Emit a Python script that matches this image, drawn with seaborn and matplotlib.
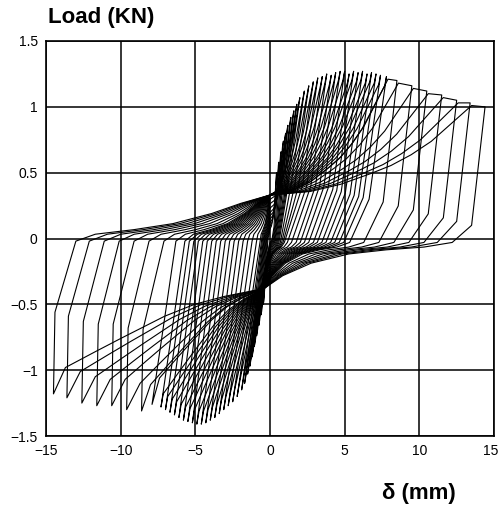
import numpy as np
import pandas as pd
import matplotlib
matplotlib.use("Agg")
import matplotlib.pyplot as plt
import matplotlib.transforms as mtransforms
import seaborn as sns

# ---- peak values of each loading cycle ----
pos_disp = [0.45, 0.6, 0.75, 0.9, 1.05, 1.2, 1.4, 1.6, 1.8, 2.0, 2.3, 2.6, 2.9, 3.2,
            3.5, 3.8, 4.1, 4.4, 4.7, 5.0, 5.3, 5.6, 5.9, 6.2, 6.5, 6.8, 7.1, 7.4,
            7.8, 8.5, 9.5, 10.5, 11.5, 12.5, 13.4, 14.4]
pos_load = [0.50, 0.58, 0.66, 0.74, 0.80, 0.86, 0.92, 0.97, 1.02, 1.07, 1.12, 1.16,
            1.19, 1.22, 1.23, 1.25, 1.24, 1.26, 1.27, 1.27, 1.25, 1.27, 1.26, 1.27,
            1.25, 1.26, 1.25, 1.24, 1.23, 1.20, 1.16, 1.12, 1.09, 1.05, 1.03, 1.00]
neg_disp = [-0.45, -0.6, -0.75, -0.9, -1.05, -1.2, -1.35, -1.5, -1.7, -1.9, -2.2,
            -2.5, -2.8, -3.1, -3.4, -3.7, -4.0, -4.3, -4.6, -4.9, -5.2, -5.5, -5.8,
            -6.1, -6.4, -6.7, -7.0, -7.3, -7.9, -8.6, -9.6, -10.6, -11.6, -12.6,
            -13.6, -14.5]
neg_load = [-0.50, -0.58, -0.66, -0.74, -0.82, -0.90, -0.97, -1.03, -1.10, -1.15,
            -1.20, -1.24, -1.27, -1.30, -1.33, -1.36, -1.38, -1.40, -1.41, -1.41,
            -1.40, -1.39, -1.38, -1.36, -1.34, -1.32, -1.30, -1.28, -1.26, -1.31,
            -1.30, -1.27, -1.27, -1.25, -1.21, -1.18]

# ---- normalised branch shapes ----
fan_u = [0, 0.2, 0.35, 0.5, 0.6, 0.7, 0.8, 0.9, 1.0]
fan_v = [0, 0.04, 0.12, 0.24, 0.33, 0.45, 0.6, 0.8, 1.0]
nfan_u = [0, 0.2, 0.35, 0.5, 0.72, 0.85, 1.0]
nfan_v = [0, 0.1, 0.2, 0.35, 0.63, 0.8, 1.0]
bot_u = [0, 0.1, 0.25, 0.45, 0.65, 0.85, 1.0]
bot_v = [0, 0.28, 0.55, 0.75, 0.84, 0.9, 1.0]
top_u = [0, 0.1, 0.3, 0.5, 0.7, 0.85, 1.0]
top_v = [0, 0.15, 0.25, 0.38, 0.6, 0.82, 1.0]

x_ticks = [-15, -10, -5, 0, 5, 10, 15]
y_ticks = [-1.5, -1, -0.5, 0, 0.5, 1, 1.5]


def branch(p0, p1, us, vs):
    xs = [p0[0] + u * (p1[0] - p0[0]) for u in us]
    ys = [p0[1] + v * (p1[1] - p0[1]) for v in vs]
    return xs, ys


rows = []
n = len(pos_disp)
for i in range(n):
    D, P = pos_disp[i], pos_load[i]
    Dn, Pn = -neg_disp[i], -neg_load[i]
    s = min(1.0, D / 2.0)
    pp = (0.0, 0.33 * s)
    pn = (-0.4 * s, -0.38 * s)
    X, Y = [], []
    big = i > 0 and (D - pos_disp[i - 1]) > 0.5
    # positive loading
    if big:
        e = (pos_disp[i - 1] + 0.1, pos_load[i - 1] - 0.02)
    else:
        e = (D - 0.12 * s, P - 0.07 * s)
    bx, by = branch(pp, e, fan_u, fan_v)
    X += bx; Y += by
    X.append(D); Y.append(P)
    # positive unloading
    yk = min(0.1 + 0.03 * (14.4 - D), 0.4) * s
    slope = 1.0 if D > 8 else 0.8
    xk = max(D - (P - yk) / slope, 0.6 * D)
    X.append(xk); Y.append(yk)
    xs_ = max(xk - 1.3, 0.3 * D)
    bx, by = branch((xs_, -0.03 * s), pn, [1 - u for u in bot_u][::-1],
                    [1 - v for v in bot_v][::-1])
    X += bx; Y += by
    # negative loading
    bign = i > 0 and (Dn + neg_disp[i - 1]) > 0.5
    if bign:
        e = (neg_disp[i - 1] - 0.1, -(Pn - 0.2))
    else:
        e = (-(Dn - 0.15 * s), -(Pn - 0.1 * s))
    bx, by = branch(pn, e, nfan_u, nfan_v)
    X += bx[1:]; Y += by[1:]
    X.append(-Dn); Y.append(-Pn)
    # negative unloading
    if Dn > 8:
        X.append(-Dn + 0.1); Y.append(-Pn + 0.62)
        xs_ = -Dn + 1.5
    else:
        xs_ = min(-Dn + 1.6, -0.3 * Dn)
    bx, by = branch((xs_, -0.02 * s), pp, top_u, top_v)
    X += bx; Y += by
    for k, (a, b) in enumerate(zip(X, Y)):
        rows.append({"cycle": i, "order": k, "x": a, "y": b})

df = pd.DataFrame(rows)

sns.set_theme(style="white")
plt.rcParams["font.family"] = ["Liberation Sans", "DejaVu Sans"]

fig = plt.figure(figsize=(5.01, 5.16), dpi=100)
ax = fig.add_axes([46 / 501, 80 / 516, 448 / 501, 395 / 516])

sns.lineplot(data=df, x="x", y="y", units="cycle", estimator=None, sort=False,
             color="black", linewidth=0.8, ax=ax)

ax.set_xlim(-15, 15)
ax.set_ylim(-1.5, 1.5)
ax.set_xticks(x_ticks)
ax.set_yticks(y_ticks)
ax.set_xticklabels([str(t) if t >= 0 else "\u2212" + str(-t) for t in x_ticks])
ax.set_yticklabels([("%g" % t).replace("-", "\u2212") for t in y_ticks])
ax.grid(True, color="black", linewidth=1.1)
ax.set_axisbelow(True)
for sp in ax.spines.values():
    sp.set_color("black")
    sp.set_linewidth(1.2)
ax.tick_params(axis="both", length=0, pad=6, labelsize=10, colors="black")
ax.set_xlabel("")
ax.set_ylabel("")
last = ax.get_xticklabels()[-1]
last.set_transform(last.get_transform() +
                   mtransforms.ScaledTranslation(-3 / 100, 0, fig.dpi_scale_trans))

fig.text(48 / 501, 1 - 18 / 516, "Load (KN)", fontsize=16, fontweight="bold",
         va="center", ha="left", color="black")
fig.text(382 / 501, 1 - 493 / 516, "\u03b4 (mm)", fontsize=16, fontweight="bold",
         va="center", ha="left", color="black")

fig.savefig("out.png", dpi=100)
